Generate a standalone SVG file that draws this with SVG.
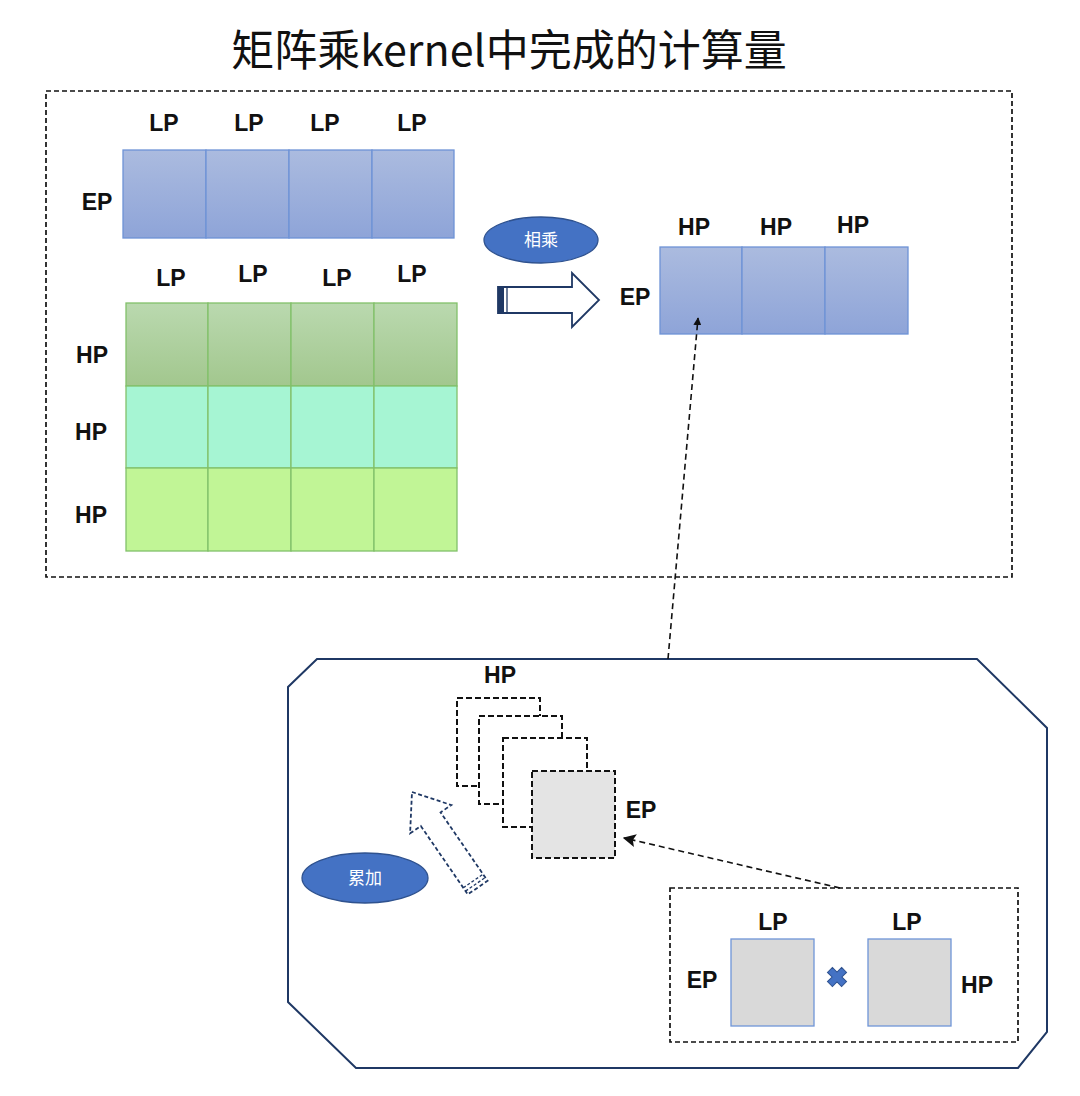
<svg xmlns="http://www.w3.org/2000/svg" width="1080" height="1096" viewBox="0 0 1080 1096">
<style>
.lbl{font-family:"Liberation Sans","Noto Sans",Arial,sans-serif;font-weight:bold;font-size:23px;fill:#111;text-anchor:middle}
.title{font-family:"Noto Sans CJK SC","Noto Sans",sans-serif;font-size:43px;fill:#111;text-anchor:middle}
.ell{font-family:"Noto Sans CJK SC",sans-serif;font-size:17px;fill:#fff;text-anchor:middle}
.dash{fill:none;stroke:#111;stroke-width:1.7;stroke-dasharray:5 3}
.bcell{fill:url(#gBlue);stroke:#6e93d6;stroke-width:1.3}
.gcell{stroke:#82c06a;stroke-width:1.3}
.sq{fill:#fff;stroke:#111;stroke-width:2;stroke-dasharray:6 3}
.gsq{fill:#d9d9d9;stroke:#6f95d8;stroke-width:1.3}
.conn{fill:none;stroke:#111;stroke-width:1.6;stroke-dasharray:6 4}
</style>
<defs>
<linearGradient id="gBlue" x1="0" y1="0" x2="0" y2="1">
<stop offset="0" stop-color="#abbbdf"/><stop offset="1" stop-color="#8ea4d8"/>
</linearGradient>
<linearGradient id="gGreen" x1="0" y1="0" x2="0" y2="1">
<stop offset="0" stop-color="#bad9af"/><stop offset="1" stop-color="#a2c78e"/>
</linearGradient>
<marker id="ah" viewBox="0 0 10 10" refX="9" refY="5" markerWidth="8" markerHeight="8" markerUnits="userSpaceOnUse" orient="auto">
<path d="M0,0 L10,5 L0,10 z" fill="#111"/>
</marker>
<marker id="ah2" viewBox="0 0 10 10" refX="9" refY="5" markerWidth="13" markerHeight="13" markerUnits="userSpaceOnUse" orient="auto">
<path d="M0,0 L10,5 L0,10 L2,5 z" fill="#111"/>
</marker>
</defs>
<rect width="1080" height="1096" fill="#fff"/>

<text class="title" x="509" y="66">矩阵乘kernel中完成的计算量</text>

<g id="top-frame">
<rect class="dash" x="46" y="91" width="966" height="486"/>
</g>

<g id="matrix-ep-lp">
<rect class="bcell" x="123" y="150" width="83" height="88"/>
<rect class="bcell" x="206" y="150" width="83" height="88"/>
<rect class="bcell" x="289" y="150" width="83" height="88"/>
<rect class="bcell" x="372" y="150" width="82" height="88"/>
<text class="lbl" x="164" y="131">LP</text>
<text class="lbl" x="249" y="131">LP</text>
<text class="lbl" x="325" y="131">LP</text>
<text class="lbl" x="412" y="131">LP</text>
<text class="lbl" x="97" y="210">EP</text>
</g>

<g id="matrix-hp-lp">
<rect class="gcell" fill="url(#gGreen)" x="126" y="303" width="82" height="83"/>
<rect class="gcell" fill="url(#gGreen)" x="208" y="303" width="83" height="83"/>
<rect class="gcell" fill="url(#gGreen)" x="291" y="303" width="83" height="83"/>
<rect class="gcell" fill="url(#gGreen)" x="374" y="303" width="83" height="83"/>
<rect class="gcell" fill="#a6f5d3" x="126" y="386" width="82" height="82"/>
<rect class="gcell" fill="#a6f5d3" x="208" y="386" width="83" height="82"/>
<rect class="gcell" fill="#a6f5d3" x="291" y="386" width="83" height="82"/>
<rect class="gcell" fill="#a6f5d3" x="374" y="386" width="83" height="82"/>
<rect class="gcell" fill="#c1f596" x="126" y="468" width="82" height="83"/>
<rect class="gcell" fill="#c1f596" x="208" y="468" width="83" height="83"/>
<rect class="gcell" fill="#c1f596" x="291" y="468" width="83" height="83"/>
<rect class="gcell" fill="#c1f596" x="374" y="468" width="83" height="83"/>
<text class="lbl" x="171" y="286">LP</text>
<text class="lbl" x="253" y="282">LP</text>
<text class="lbl" x="337" y="286">LP</text>
<text class="lbl" x="412" y="282">LP</text>
<text class="lbl" x="92" y="363">HP</text>
<text class="lbl" x="91" y="440">HP</text>
<text class="lbl" x="91" y="523">HP</text>
</g>

<g id="multiply">
<ellipse cx="541" cy="240" rx="57" ry="23" fill="#4472c4" stroke="#2f528f" stroke-width="1.3"/>
<text class="ell" x="541" y="246">相乘</text>
<path d="M498,287 L572,287 L572,273 L599,300 L572,327 L572,313 L498,313 Z" fill="#fff" stroke="#1f3864" stroke-width="1.8"/>
<rect x="498" y="287" width="6" height="26" fill="#1f3864"/>
<line x1="507" y1="287" x2="507" y2="313" stroke="#1f3864" stroke-width="1.3"/>
</g>

<g id="matrix-ep-hp">
<rect class="bcell" x="660" y="247" width="82" height="87"/>
<rect class="bcell" x="742" y="247" width="83" height="87"/>
<rect class="bcell" x="825" y="247" width="83" height="87"/>
<text class="lbl" x="694" y="235">HP</text>
<text class="lbl" x="776" y="235">HP</text>
<text class="lbl" x="853" y="233">HP</text>
<text class="lbl" x="635" y="305">EP</text>
</g>

<g id="kernel-block">
<polygon points="317,659 977,659 1047,728 1047,1032 1018,1068 356,1068 288,1002 288,687" fill="none" stroke="#1f3864" stroke-width="2"/>
</g>

<g id="tile-stack">
<rect class="sq" x="457" y="698" width="83" height="88"/>
<rect class="sq" x="479" y="716" width="83" height="88"/>
<rect class="sq" x="503" y="738" width="84" height="89"/>
<rect class="sq" style="fill:#e4e4e4" x="532" y="771" width="83" height="87"/>
<text class="lbl" x="500" y="683">HP</text>
<text class="lbl" x="641" y="818">EP</text>
</g>

<g id="accumulate">
<ellipse cx="365" cy="878" rx="63" ry="25" fill="#4472c4" stroke="#2f528f" stroke-width="1.3"/>
<text class="ell" x="365" y="884">累加</text>
<g transform="translate(412,792) rotate(-34.5)">
<path d="M0,0 L25,33 L12,33 L12,116 L-12,116 L-12,33 L-25,33 Z" fill="#fff" stroke="#1f3864" stroke-width="1.8" stroke-dasharray="4 2.5"/>
<path d="M-12,108 L12,108 M-12,112 L12,112" stroke="#1f3864" stroke-width="1.3" stroke-dasharray="3 2"/>
</g>
</g>

<g id="tile-product">
<rect class="dash" x="670" y="888" width="348" height="154"/>
<rect class="gsq" x="731" y="939" width="83" height="87"/>
<rect class="gsq" x="868" y="939" width="83" height="87"/>
<text class="lbl" x="773" y="930">LP</text>
<text class="lbl" x="907" y="930">LP</text>
<text class="lbl" x="702" y="988">EP</text>
<text class="lbl" x="977" y="993">HP</text>
<g transform="translate(837,977) rotate(45)">
<path d="M-3.5,-10 L3.5,-10 L3.5,-3.5 L10,-3.5 L10,3.5 L3.5,3.5 L3.5,10 L-3.5,10 L-3.5,3.5 L-10,3.5 L-10,-3.5 L-3.5,-3.5 Z" fill="#4472c4" stroke="#2f528f" stroke-width="1"/>
</g>
</g>

<g id="connectors">
<line class="conn" x1="668" y1="659" x2="698" y2="318" marker-end="url(#ah)"/>
<line class="conn" x1="840" y1="888" x2="624" y2="838" marker-end="url(#ah2)"/>
</g>
</svg>
